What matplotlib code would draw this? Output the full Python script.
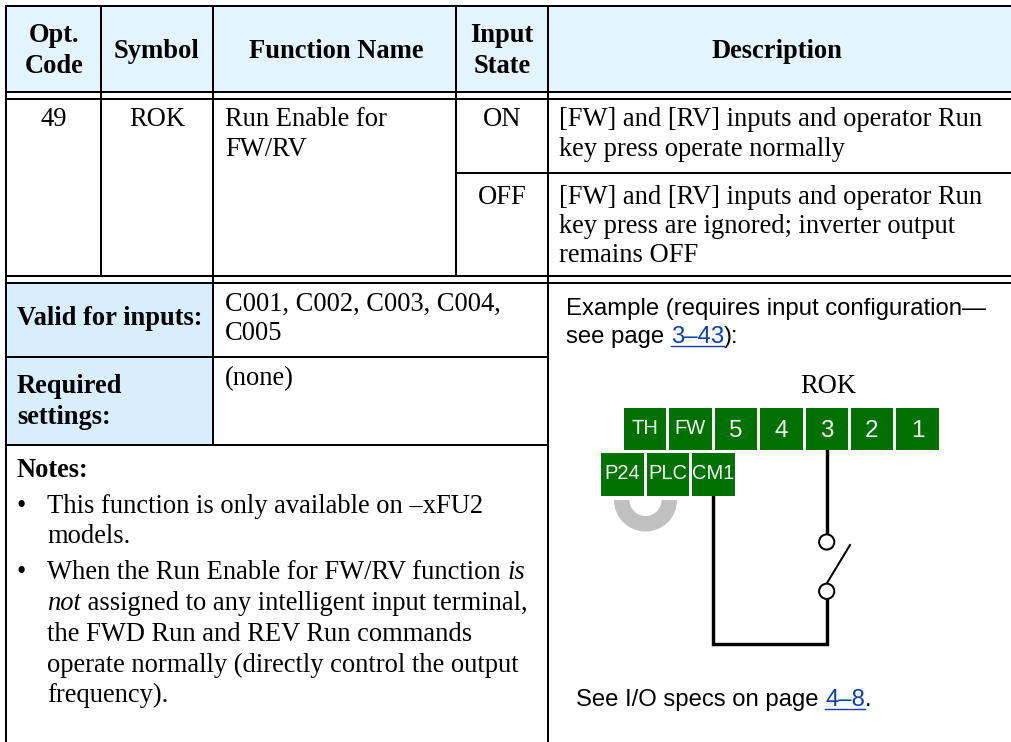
import matplotlib
matplotlib.use("Agg")
import matplotlib.pyplot as plt
from matplotlib.patches import Rectangle, Circle, Wedge

W, H = 1012, 742
SERIF = ["Liberation Serif", "DejaVu Serif"]
SANS = ["Liberation Sans", "DejaVu Sans"]
BODY = 19.1
LINK = "#0b3fa8"
GREEN = "#007000"
HEAD_BG = "#e4f4ff"
LEFT_BG = "#d8eeff"

header_labels = [("Opt.", 54, 41.7), ("Code", 54, 72.7), ("Symbol", 157, 58.3),
                 ("Function Name", 336, 58.3), ("Input", 502, 41.7), ("State", 502, 72.7),
                 ("Description", 777, 58.3)]
row_centered = [("49", 53.5, 126.3), ("ROK", 157, 126.3), ("ON", 502, 126.3), ("OFF", 502, 203.5)]
row_left = [("Run Enable for", 225, 126.3), ("FW/RV", 225, 156),
            ("[FW] and [RV] inputs and operator Run", 559, 126),
            ("key press operate normally", 559, 155.7),
            ("[FW] and [RV] inputs and operator Run", 559, 203.5),
            ("key press are ignored; inverter output", 559, 232.7),
            ("remains OFF", 559, 261.7),
            ("C001, C002, C003, C004,", 225, 311), ("C005", 225, 339.5), ("(none)", 225, 385)]
bold_left = [("Valid for inputs:", 17, 325), ("Required", 17, 392.7), ("settings:", 17, 424), ("Notes:", 17, 476.7)]
note_lines = [("This function is only available on –xFU2", 47.5, 513.3), ("models.", 47.5, 543.3),
              ("the FWD Run and REV Run commands", 47.5, 641),
              ("operate normally (directly control the output", 47.5, 671.5),
              ("frequency).", 47.5, 702)]
bullets = [(21.5, 513.3), (21.5, 579)]
top_terminals = ["TH", "FW", "5", "4", "3", "2", "1"]
top_x = [(624, 666), (669, 712), (715, 757), (760, 803), (806, 848), (851, 893), (896, 939)]
bottom_terminals = ["P24", "PLC", "CM1"]
bottom_x = [(601, 644), (647, 689), (692, 735)]

fig = plt.figure(figsize=(W / 100, H / 100), dpi=100)
ax = fig.add_axes([0, 0, 1, 1])
ax.set_xlim(0, W)
ax.set_ylim(H, 0)
ax.axis("off")


def px(v):
    return v * 0.72


def rect(x0, y0, x1, y1, c, z=1):
    ax.add_patch(Rectangle((x0, y0), x1 - x0, y1 - y0, fc=c, ec="none", zorder=z))


def hl(y, x0, x1, w=2.0):
    ax.plot([x0, x1], [y, y], color="k", lw=px(w), solid_capstyle="butt", zorder=3)


def vl(x, y0, y1, w=2.0):
    ax.plot([x, x], [y0, y1], color="k", lw=px(w), solid_capstyle="butt", zorder=3)


def runs(x, y, parts, family=SERIF, size=BODY):
    """Draw text pieces one after another; returns the end x. Each part: (text, style, colour)."""
    r = fig.canvas.get_renderer()
    for s, style, col in parts:
        t = ax.text(x, y, s, family=family, fontsize=size, style=style, color=col,
                    ha="left", va="baseline", zorder=5)
        adv = r.get_text_width_height_descent(s, t.get_fontproperties(), False)[0]
        if col == LINK:
            ax.plot([x, x + adv], [y + 3, y + 3], color=LINK, lw=px(1.4), zorder=5)
        x += adv
    return x


# backgrounds
rect(6, 6, W + 2, 92, HEAD_BG)
rect(6, 283, 213, 445, LEFT_BG)

# table rules
RE = W + 2
hl(6, 5, RE)
hl(91.7, 6, RE)
hl(99, 6, RE)
hl(173, 456, RE)
hl(275.7, 6, RE)
hl(283, 6, RE)
hl(357, 6, 548)
hl(445, 6, 548)
vl(6, 5, H)
for x in (101.5, 456.5):
    vl(x, 6, 275.7)
vl(213.5, 6, 445)
vl(548, 6, H)

# table text
for s, x, y in header_labels:
    ax.text(x, y, s, family=SERIF, fontsize=BODY, weight="bold", ha="center", va="baseline", zorder=5)
for s, x, y in row_centered:
    ax.text(x, y, s, family=SERIF, fontsize=BODY, ha="center", va="baseline", zorder=5)
for s, x, y in row_left + note_lines:
    ax.text(x, y, s, family=SERIF, fontsize=BODY, ha="left", va="baseline", zorder=5)
for s, x, y in bold_left:
    ax.text(x, y, s, family=SERIF, fontsize=BODY, weight="bold", ha="left", va="baseline", zorder=5)
for x, y in bullets:
    ax.text(x, y, "•", family=SERIF, fontsize=BODY, ha="center", va="baseline", zorder=5)
runs(47.5, 579, [("When the Run Enable for FW/RV function ", "normal", "k"), ("is", "italic", "k")])
runs(47.5, 610, [("not", "italic", "k"), (" assigned to any intelligent input terminal,", "normal", "k")])

# example text
SZ = 17.2
runs(566, 315, [("Example (requires input configuration—", "normal", "k")], SANS, SZ)
runs(566, 343, [("see page ", "normal", "k"), ("3–43", "normal", LINK), ("):", "normal", "k")], SANS, SZ)
runs(576, 705.7, [("See I/O specs on page ", "normal", "k"), ("4–8", "normal", LINK), (".", "normal", "k")], SANS, SZ)
ax.text(828, 392.7, "ROK", family=SERIF, fontsize=BODY, ha="center", va="baseline", zorder=5)

# wiring diagram (the y axis is inverted, so 0-180 degrees is the lower half)
ax.add_patch(Wedge((645.5, 500), 31.5, 0, 180, width=15.5, fc="#c0c0c0", ec="none", zorder=2))
WIRE = px(3.4)
ax.plot([713.3, 713.3, 826.7, 826.7], [496, 644, 644, 591], color="k", lw=WIRE,
        solid_joinstyle="miter", zorder=3)
ax.plot([826.7, 826.7], [450, 542], color="k", lw=WIRE, zorder=3)
ax.plot([827, 850], [583, 545], color="k", lw=px(2), zorder=3)
for cy in (542, 591.3):
    ax.add_patch(Circle((826.7, cy), 7.6, fc="w", ec="k", lw=px(2), zorder=4))
for labels, xs, y0, y1 in ((top_terminals, top_x, 408, 450), (bottom_terminals, bottom_x, 453, 496)):
    for s, (x0, x1) in zip(labels, xs):
        rect(x0, y0, x1, y1, GREEN, z=4)
        narrow = len(s) > 1
        ax.text((x0 + x1) / 2, y0 + (26.3 if narrow else 28.7), s, color="#f0f8f0",
                family=SANS, fontsize=14.5 if narrow else 17.5,
                ha="center", va="baseline", zorder=5)

fig.savefig("out.png", dpi=100, facecolor="white")
